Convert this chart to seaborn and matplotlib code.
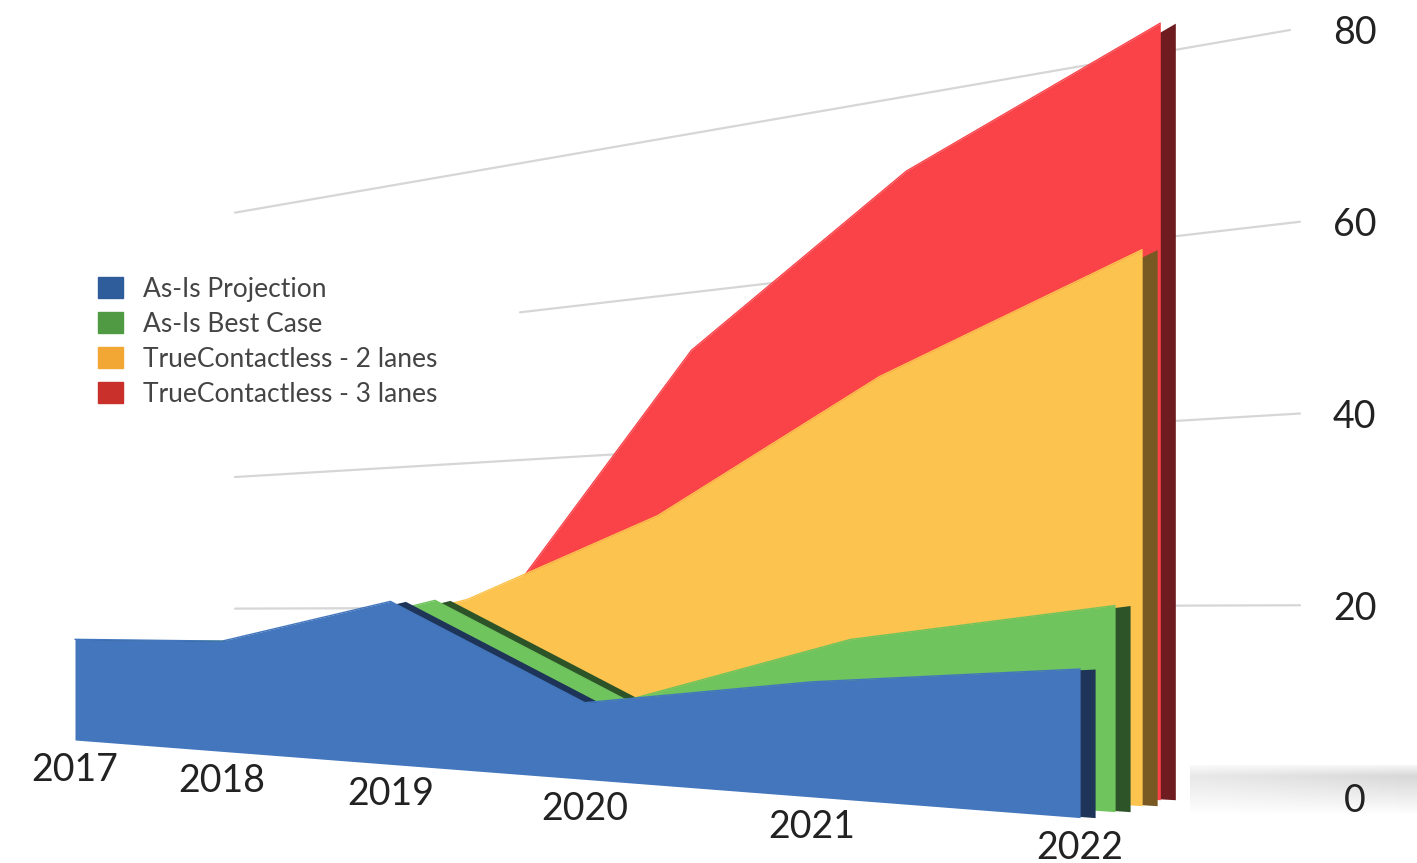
import numpy as np
import pandas as pd
import seaborn as sns
import matplotlib
matplotlib.use("Agg")
import matplotlib.pyplot as plt
from matplotlib.transforms import Affine2D, IdentityTransform
from matplotlib.patches import Patch

# dados
years = [2017, 2018, 2019, 2020, 2021, 2022]
as_is = [10.5, 11.5, 17, 8, 12, 15.5]
best_case = [10.5, 11.5, 17, 8, 16, 21.5]
two_lanes = [10.5, 11.5, 17, 27, 43, 58]
three_lanes = [10.5, 11.5, 17, 44, 64, 81]
series_names = ["As-Is Projection", "As-Is Best Case",
                "TrueContactless - 2 lanes", "TrueContactless - 3 lanes"]
y_ticks = [0, 20, 40, 60, 80]

face_cols = ["#4376BD", "#70C45D", "#FCC34E", "#F94349"]
side_cols = ["#1E3458", "#2C5428", "#785823", "#6E1C20"]
legend_cols = ["#2F5D9C", "#4F9A43", "#F2A633", "#C9302C"]

df = pd.DataFrame({"ano": years, "as_is": as_is, "best": best_case,
                   "two": two_lanes, "three": three_lanes})
cols = ["as_is", "best", "two", "three"]

sns.set_theme(style="white")
plt.rcParams["font.family"] = ["Lato", "DejaVu Sans"]

W, H = 1417, 863
fig = plt.figure(figsize=(W / 100, H / 100), dpi=100, facecolor="white")

# sombra no canto inferior direito (atras de tudo)
sh = fig.add_axes([1190 / W, (H - 815) / H, (W - 1190) / W, 50 / H])
prof = np.concatenate([np.linspace(0.05, 0.3, 12), np.linspace(0.3, 0, 38)])
img = np.zeros((50, 8, 4))
img[..., :3] = 0.5
img[..., 3] = prof[:, None] * np.linspace(0.6, 1, 8)[None, :]
sh.imshow(img, aspect="auto", interpolation="bilinear")
sh.axis("off")

ax = fig.add_axes([0, 0, 1320 / W, 1])
ax.set_facecolor("none")

# escala x "em perspectiva"
B = 0.0628
def fwd(x):
    s = np.asarray(x, dtype=float) - 2017
    return s / (1 - B * s)
def inv(u):
    u = np.asarray(u, dtype=float)
    return u / (1 + B * u) + 2017

ax.set_xscale("function", functions=(fwd, inv))
px_u = 137.9
ax.set_xlim(float(inv(-75 / px_u)), float(inv((1320 - 75) / px_u)))
py = 767 / 80
ax.set_ylim(-66 / py, (H - 66) / py)

# inclinacao da base (efeito 3D)
t = -78 / 1010
skew = Affine2D(np.array([[1, 0, 0], [t, 1, -21 - t * 1085], [0, 0, 1]]))
# deslocamento de profundidade: (a, b, dy) -> x' = x*(1+b) + a
depth = [(0, 0, 0), (50, -0.0139, 6), (85.6, -0.0218, 12), (138, -0.0535, 18)]

for i in [3, 2, 1, 0]:
    a, b, dy = depth[i]
    s = dy / 835
    shift = Affine2D(np.array([[1 + b, 0, a], [s, 1, -s * 250], [0, 0, 1]]))
    tr = ax.transData + skew + shift
    tr_side = tr + Affine2D().translate(15, 0)
    z = 2 + (3 - i) * 2
    ax.fill_between(df["ano"], 0, df[cols[i]], color=side_cols[i], lw=0,
                    transform=tr_side, zorder=z)
    ax.fill_between(df["ano"], 0, df[cols[i]], color=face_cols[i], lw=0,
                    transform=tr, zorder=z + 0.5)
    sns.lineplot(x=df["ano"], y=df[cols[i]], color=face_cols[i], lw=1,
                 transform=tr, zorder=z + 0.6, ax=ax)

# linhas de grade com ponto de fuga
vp = (-2095, H - 616)
for v in y_ticks[1:]:
    yr = ax.transData.transform([(2020, v)])[0][1]
    xr = 1290 if v == 80 else 1300
    xl = 520 if v == 60 else 235
    yl = vp[1] + (yr - vp[1]) * (xl - vp[0]) / (xr - vp[0])
    ax.plot([xl, xr], [yl, yr], color="#d6d6d6", lw=1.6,
            transform=IdentityTransform(), zorder=1)

# rotulos dos anos
tr_lab = ax.transData + skew + Affine2D().translate(0, -30)
for yr_ in years:
    ax.text(yr_, 0, str(yr_), transform=tr_lab, ha="center", va="center",
            fontsize=27, color="#222222", zorder=20)

ax.set_xticks([])
ax.yaxis.tick_right()
ax.set_yticks(y_ticks)
ax.set_yticklabels([str(v) for v in y_ticks])
ax.tick_params(axis="y", length=0, pad=25, labelsize=27, labelcolor="#222222")
for lbl in ax.get_yticklabels():
    lbl.set_ha("center")
ax.set_xlabel("")
ax.set_ylabel("")
sns.despine(ax=ax, left=True, bottom=True, right=True, top=True)
ax.grid(False)

handles = [Patch(color=c) for c in legend_cols]
fig.legend(handles, series_names, loc="upper left",
           bbox_to_anchor=(74 / W, 1 - 253 / H), frameon=False, fontsize=19,
           handlelength=0.95, handleheight=0.85, labelspacing=0.38,
           handletextpad=0.75, labelcolor="#444444")

fig.savefig("out.png", dpi=100)
